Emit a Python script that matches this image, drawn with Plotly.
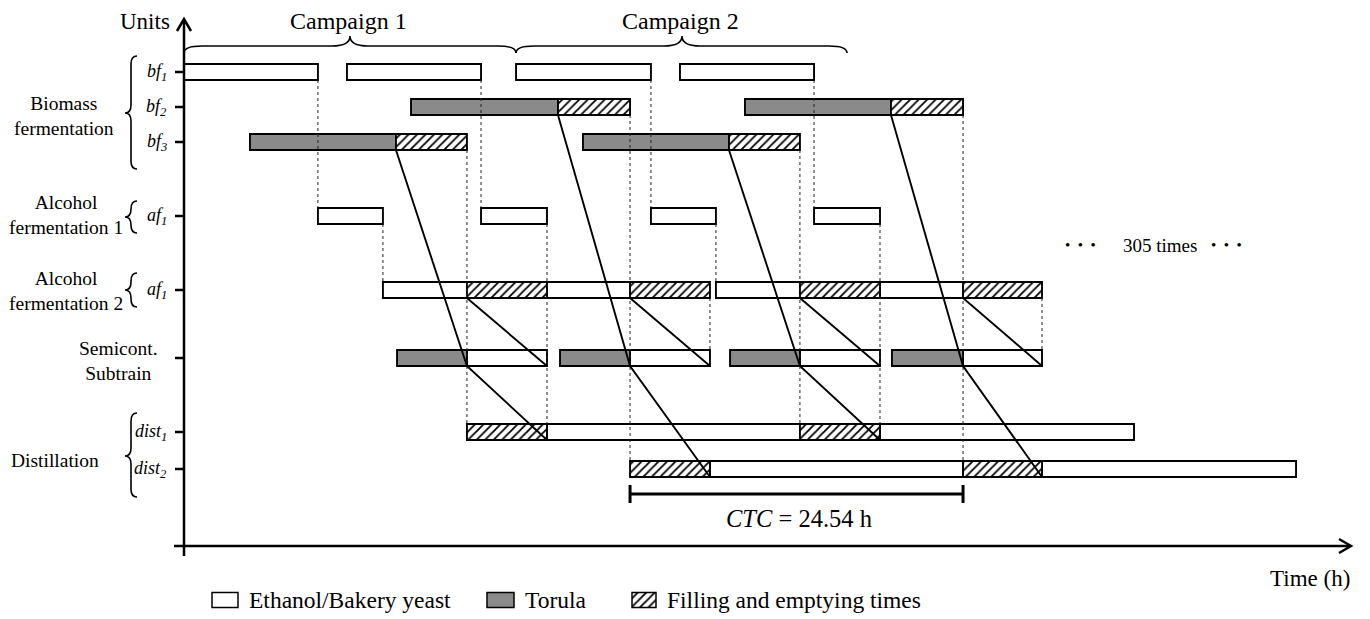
import plotly.graph_objects as go

# ---------------- data (times in hours) ----------------
units = ["bf1", "bf2", "bf3", "af1_1", "af1_2", "semi", "dist1", "dist2"]
unit_labels = ["<i>bf<sub>1</sub></i>", "<i>bf<sub>2</sub></i>", "<i>bf<sub>3</sub></i>",
               "<i>af<sub>1</sub></i>", "<i>af<sub>1</sub></i>", "",
               "<i>dist<sub>1</sub></i>", "<i>dist<sub>2</sub></i>"]
group_labels = ["Biomass<br>fermentation", "Alcohol<br>fermentation 1",
                "Alcohol<br>fermentation 2", "Semicont.<br>Subtrain", "Distillation"]
campaign_labels = ["Campaign 1", "Campaign 2"]
kind_names = {"E": "Ethanol/Bakery yeast", "T": "Torula", "F": "Filling and emptying times"}

bar_unit = (["bf1"] * 4 + ["bf2"] * 4 + ["bf3"] * 4 + ["af1_1"] * 4 + ["af1_2"] * 8
            + ["semi"] * 8 + ["dist1"] * 4 + ["dist2"] * 4)
bar_start = [0.00, 12.01, 24.47, 36.55,
             16.73, 27.56, 41.34, 52.10,
             4.86, 15.62, 29.40, 40.16,
             9.87, 21.89, 34.41, 46.43,
             14.66, 20.85, 26.75, 32.87, 39.20, 45.39, 51.29, 57.41,
             15.70, 20.85, 27.71, 32.87, 40.24, 45.39, 52.17, 57.41,
             20.85, 26.75, 45.39, 51.29,
             32.87, 38.76, 57.41, 63.23]
bar_end = [9.87, 21.89, 34.41, 46.43,
           27.56, 32.87, 52.10, 57.41,
           15.62, 20.85, 40.16, 45.39,
           14.66, 26.75, 39.20, 51.29,
           20.85, 26.75, 32.87, 38.76, 45.39, 51.29, 57.41, 63.23,
           20.85, 26.75, 32.87, 38.76, 45.39, 51.29, 57.41, 63.23,
           26.75, 45.39, 51.29, 70.01,
           38.76, 57.41, 63.23, 81.95]
bar_kind = ["E", "E", "E", "E",
            "T", "F", "T", "F",
            "T", "F", "T", "F",
            "E", "E", "E", "E",
            "E", "F", "E", "F", "E", "F", "E", "F",
            "T", "E", "T", "E", "T", "E", "T", "E",
            "F", "E", "F", "E",
            "F", "E", "F", "E"]

# dotted links between units (time, from unit, to unit)
link_t = [9.87, 21.89, 34.41, 46.43, 14.66, 39.20, 26.75, 51.29,
          20.85, 45.39, 32.87, 57.41, 38.76, 63.23]
link_from = ["bf1", "bf1", "bf1", "bf1", "af1_1", "af1_1", "af1_1", "af1_1",
             "bf3", "bf3", "bf2", "bf2", "af1_2", "af1_2"]
link_to = ["af1_1", "af1_1", "af1_1", "af1_1", "af1_2", "af1_2", "dist1", "dist1",
           "dist1", "dist1", "dist2", "dist2", "semi", "semi"]

# Torula transfers: biomass unit -> semicont. subtrain -> distillation
transfer_src = ["bf3", "bf2", "bf3", "bf2"]
transfer_t0 = [15.62, 27.56, 40.16, 52.10]
transfer_t1 = [20.85, 32.87, 45.39, 57.41]
transfer_t2 = [26.75, 38.76, 51.29, 63.23]
transfer_dst = ["dist1", "dist2", "dist1", "dist2"]

ctc_start = 32.87
ctc_value = 24.54
repeat_text = "305 times"

# ---------------- layout constants (pixels) ----------------
W, H = 1370, 619
X0 = 184                      # time origin pixel
PX_PER_H = 333 / 24.54
ROW_Y = {"bf1": 72, "bf2": 107, "bf3": 142, "af1_1": 216, "af1_2": 290,
         "semi": 358, "dist1": 432, "dist2": 469}
BAR_H = 16
FONT = "Liberation Serif"
STYLE = {
    "E": dict(color="white"),
    "T": dict(color="#8a8a8a"),
    "F": dict(color="white", pattern=dict(shape="/", fgcolor="black", bgcolor="white",
                                          size=6, solidity=0.3, fillmode="replace")),
}

fig = go.Figure()

# bars
for k in ["E", "T", "F"]:
    idx = [i for i, kk in enumerate(bar_kind) if kk == k]
    fig.add_trace(go.Bar(
        orientation="h",
        base=[bar_start[i] for i in idx],
        x=[bar_end[i] - bar_start[i] for i in idx],
        y=[ROW_Y[bar_unit[i]] for i in idx],
        width=BAR_H,
        marker=dict(line=dict(color="black", width=1.9), **STYLE[k]),
        name=kind_names[k], showlegend=False, hoverinfo="skip",
        xaxis="x", yaxis="y"))

# dotted links
dx, dy = [], []
for t, a, b in zip(link_t, link_from, link_to):
    dx += [t, t, None]
    dy += [ROW_Y[a] + BAR_H / 2, ROW_Y[b] - BAR_H / 2, None]
fig.add_trace(go.Scatter(x=dx, y=dy, mode="lines", showlegend=False, hoverinfo="skip",
                         line=dict(color="#222", width=1, dash="dot")))

# transfer lines
sx, sy = [], []
for s, t0, t1, t2, d in zip(transfer_src, transfer_t0, transfer_t1, transfer_t2, transfer_dst):
    sx += [t0, t1, t2, None]
    sy += [ROW_Y[s] + BAR_H / 2, ROW_Y["semi"] + BAR_H / 2, ROW_Y[d] + BAR_H / 2, None]
    sx += [t1, t2, None]
    sy += [ROW_Y["af1_2"] + BAR_H / 2, ROW_Y["semi"] + BAR_H / 2, None]
fig.add_trace(go.Scatter(x=sx, y=sy, mode="lines", showlegend=False, hoverinfo="skip",
                         line=dict(color="black", width=1.9)))

# CTC bracket
ctc_end = ctc_start + ctc_value
fig.add_trace(go.Scatter(
    x=[ctc_start, ctc_end, None, ctc_start, ctc_start, None, ctc_end, ctc_end],
    y=[494, 494, None, 485, 503, None, 485, 503],
    mode="lines", showlegend=False, hoverinfo="skip",
    line=dict(color="black", width=3)))

# legend boxes (drawn on the pixel overlay axis)
leg_x = [212, 487, 632]
leg_w = [26, 27, 24]
for k, lx, lw in zip(["E", "T", "F"], leg_x, leg_w):
    fig.add_trace(go.Bar(orientation="h", base=[lx], x=[lw], y=[600], width=15,
                         marker=dict(line=dict(color="black", width=1.5), **STYLE[k]),
                         showlegend=False, hoverinfo="skip", xaxis="x2", yaxis="y"))

shapes = []
ann = []

def line(x0, y0, x1, y1, w=2.5):
    shapes.append(dict(type="line", xref="x2", yref="y", x0=x0, y0=y0, x1=x1, y1=y1,
                       line=dict(color="black", width=w)))

def path(p, w=1.6):
    shapes.append(dict(type="path", xref="x2", yref="y", path=p,
                       line=dict(color="black", width=w)))

def text(x, y, s, size, xanchor="center"):
    ann.append(dict(x=x, y=y, xref="x2", yref="y", text=s, showarrow=False,
                    xanchor=xanchor, yanchor="middle",
                    font=dict(family=FONT, size=size, color="black")))

# axes with arrows
line(184, 556, 184, 19)
path("M 177,31 L 184,19 L 191,31", w=2.5)
line(174, 546, 1350, 546)
path("M 1339,539 L 1351,546 L 1339,553", w=2.5)

# y ticks + unit labels
for u, lab in zip(units, unit_labels):
    line(175, ROW_Y[u], 184, ROW_Y[u], w=2.5)
    if lab:
        text(169, ROW_Y[u], lab, 18, xanchor="right")

# vertical braces for groups
def vbrace(y0, y1, ym, xr=137, xm=131, xl=125, r=8):
    return (f"M {xr},{y0} Q {xm},{y0} {xm},{y0 + r} L {xm},{ym - r} "
            f"Q {xm},{ym} {xl},{ym} Q {xm},{ym} {xm},{ym + r} L {xm},{y1 - r} "
            f"Q {xm},{y1} {xr},{y1}")

for (y0, y1, ym) in [(56, 169, 113), (201, 233, 217), (273, 307, 290), (413, 497, 456)]:
    path(vbrace(y0, y1, ym))

group_pos = [(64, 116), (66, 215), (66, 291), (118, 361), (55, 460)]
for g, (gx, gy) in zip(group_labels, group_pos):
    text(gx, gy, g, 19.5)

# horizontal braces for campaigns
def hbrace(x0, x1, xm, yb=53, yl=46, yt=36, r=18):
    return (f"M {x0},{yb} Q {x0},{yl} {x0 + r},{yl} L {xm - r},{yl} "
            f"Q {xm},{yl} {xm},{yt} Q {xm},{yl} {xm + r},{yl} L {x1 - r},{yl} "
            f"Q {x1},{yl} {x1},{yb}")

for (x0, x1, xm), lab in zip([(184, 516, 350), (516, 847, 682)], campaign_labels):
    path(hbrace(x0, x1, xm))
    text(xm - 2, 21, lab, 24)

text(145, 21, "Units", 23)
text(1352, 578, "Time (h)", 23, xanchor="right")
text(799, 518, f"<i>CTC</i> = {ctc_value:.2f} h", 24.5)
text(1160, 245, repeat_text, 19)
text(1080, 245, "•  •  •", 15)
text(1226, 245, "•  •  •", 15)

for k, lx, lw in zip(["E", "T", "F"], leg_x, leg_w):
    text(lx + lw + 9, 600, kind_names[k], 23.5, xanchor="left")

fig.update_layout(
    width=W, height=H, margin=dict(l=0, r=0, t=0, b=0),
    paper_bgcolor="white", plot_bgcolor="white", barmode="overlay",
    xaxis=dict(range=[-X0 / PX_PER_H, (W - X0) / PX_PER_H], visible=False,
               domain=[0, 1], fixedrange=True),
    xaxis2=dict(range=[0, W], overlaying="x", anchor="y", visible=False, fixedrange=True),
    yaxis=dict(range=[H, 0], visible=False, domain=[0, 1], fixedrange=True),
    shapes=shapes, annotations=ann, showlegend=False,
    font=dict(family=FONT, color="black"),
)

fig.write_html("out.html", config={"displayModeBar": False},
               post_script="document.body.style.margin='0';")
